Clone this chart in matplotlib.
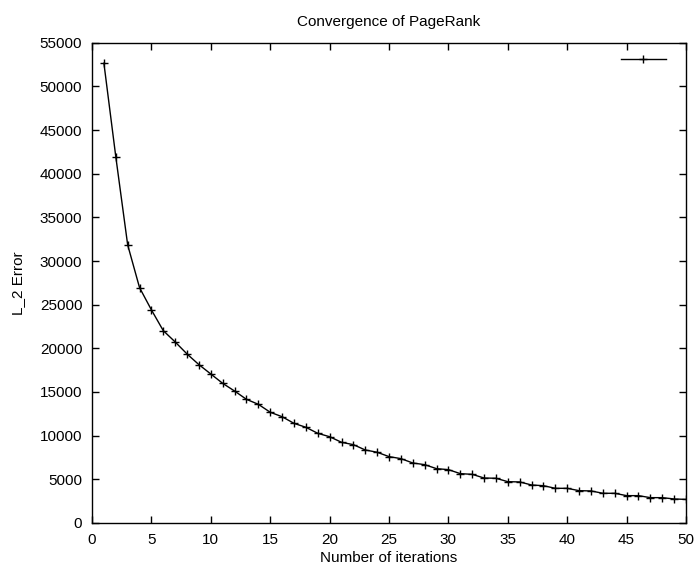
import numpy as np
import matplotlib
matplotlib.use("Agg")
import matplotlib.pyplot as plt

plt.rcParams["font.family"] = ["Liberation Sans", "DejaVu Sans"]

# L_2 error per PageRank iteration
iterations = list(range(1, 51))
l2_error = [
    52650, 41950, 31850, 26950, 24400, 22020, 20730, 19350, 18130, 17060,
    15990, 15110, 14160, 13590, 12680, 12170, 11410, 10960, 10270, 9880,
    9240, 8970, 8360, 8100, 7600, 7370, 6870, 6680, 6220, 6110,
    5650, 5570, 5150, 5120, 4730, 4700, 4350, 4270, 3970, 3970,
    3700, 3670, 3400, 3400, 3130, 3130, 2900, 2900, 2750, 2700,
]
x_ticks = np.arange(0, 51, 5)
y_ticks = np.arange(0, 55001, 5000)

fig = plt.figure(figsize=(6.94, 5.71), dpi=100)
ax = fig.add_axes([0.1326, 0.0841, 0.8559, 0.8411])

ax.plot(iterations, l2_error, color="black", lw=1.0, marker="+",
        markersize=6, markeredgewidth=1.0, label=" ")

ax.set_xlim(0, 50)
ax.set_ylim(0, 55000)
ax.set_xticks(x_ticks)
ax.set_yticks(y_ticks)
ax.tick_params(direction="in", length=5, width=1, top=True, right=True,
               labelsize=11)
ax.tick_params(axis="x", pad=7)
ax.tick_params(axis="y", pad=7)
for s in ax.spines.values():
    s.set_linewidth(1.0)

ax.set_xlabel("Number of iterations", fontsize=11, labelpad=3)
ax.set_ylabel("L_2 Error", fontsize=11, labelpad=11)
ax.set_title("Convergence of PageRank", fontsize=11, pad=12)

# gnuplot-style key: empty title, sample line with marker
ax.legend(loc="upper right", bbox_to_anchor=(0.985, 1.0), frameon=False,
          markerfirst=False, handlelength=3.0, fontsize=11, borderaxespad=0.3)

fig.savefig("out.png", dpi=100)
